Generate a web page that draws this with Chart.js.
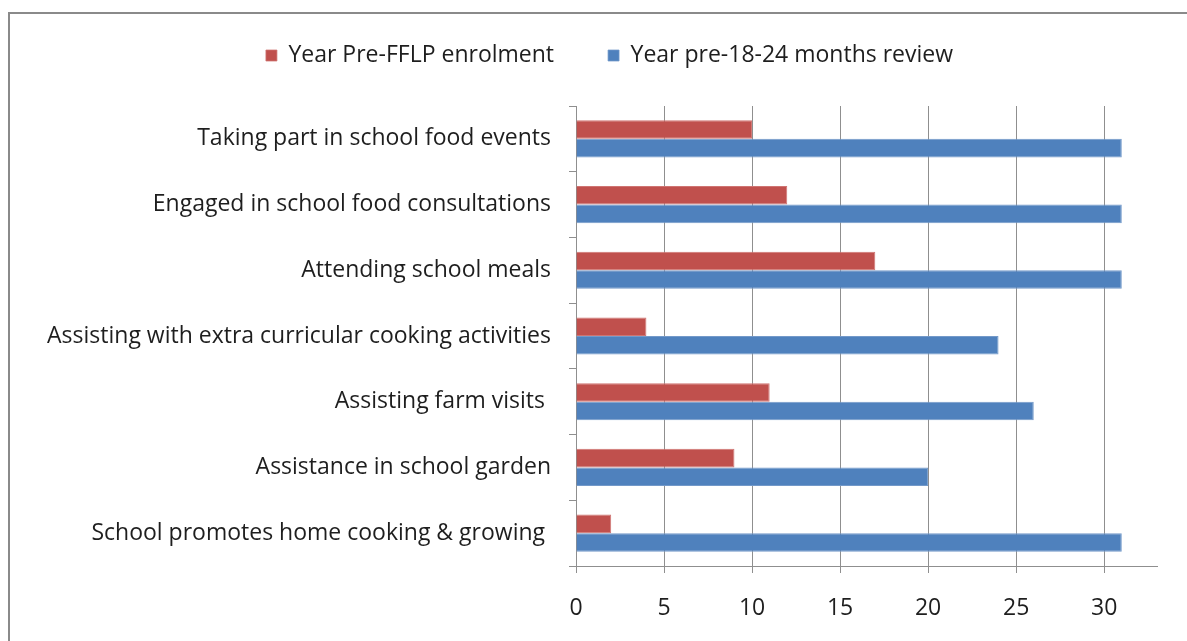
<!DOCTYPE html>
<html>
<head>
<meta charset="utf-8">
<script src="https://cdn.jsdelivr.net/npm/chart.js@4.4.1/dist/chart.umd.min.js"></script>
<style>
  html, body { margin: 0; padding: 0; background: #fff; }
  #frame {
    position: absolute; left: 8px; top: 12px; width: 1300px; height: 800px;
    border-left: 2px solid #8a8a8a; border-top: 2px solid #8a8a8a;
  }
  #wrap { position: absolute; left: 0; top: 0; width: 1187px; height: 641px; }
</style>
</head>
<body>
<div id="frame"></div>
<div id="wrap"><canvas id="Chart" width="1187" height="641"></canvas></div>
<script>
/* Chart data */
const activities = [
    'Taking part in school food events',
    'Engaged in school food consultations',
    'Attending school meals',
    'Assisting with extra curricular cooking activities',
    'Assisting farm visits ',
    'Assistance in school garden',
    'School promotes home cooking & growing '
];
const preEnrolment = [10, 12, 17, 4, 11, 9, 2];
const preReview = [31, 31, 31, 24, 26, 20, 31];
const xTicks = [0, 5, 10, 15, 20, 25, 30];

const fontFamily = '"Open Sans", sans-serif';
const gridColour = '#8f8f8f';

Chart.defaults.font.family = fontFamily;
Chart.defaults.color = '#1e1e1e';

/* fixed legend block height, and legend nudged right over the plot */
const legendPlace = {
    id: 'legendPlace',
    beforeInit(chart) {
        const fit = chart.legend.fit;
        chart.legend.fit = function () {
            fit.call(this);
            this.height = 116;
        };
    },
    afterLayout(chart) {
        chart.legend.left += 15;
        chart.legend.right += 15;
    }
};

/* Function to create plot */
function plotData() {
    const ctx = document.getElementById('Chart').getContext('2d');
    const myChart = new Chart(ctx, {
        type: 'bar',
        data: {
            labels: activities,
            datasets: [{
                label: 'Year Pre-FFLP enrolment',
                data: preEnrolment,
                backgroundColor: '#c0504d',
                borderColor: '#cf7472',
                borderWidth: { top: 1, bottom: 1, right: 1, left: 0 }
            }, {
                label: 'Year pre-18-24 months review',
                data: preReview,
                backgroundColor: '#4f81bd',
                borderColor: '#7399c9',
                borderWidth: { top: 1, bottom: 1, right: 1, left: 0 }
            }]
        },
        options: {
            indexAxis: 'y',
            responsive: false,
            animation: false,
            layout: {
                padding: { left: 32, right: 30, top: -10, bottom: 0 }
            },
            datasets: {
                bar: {
                    categoryPercentage: 0.565,
                    barPercentage: 1
                }
            },
            scales: {
                x: {
                    min: 0,
                    max: 33,
                    afterBuildTicks: function (axis) {
                        axis.ticks = xTicks.map(v => ({ value: v }));
                    },
                    afterFit: function (axis) { axis.height = 75; },
                    ticks: {
                        padding: 22,
                        font: { size: 23 }
                    },
                    grid: {
                        color: gridColour,
                        tickLength: 7,
                        drawOnChartArea: true
                    },
                    border: { color: gridColour }
                },
                y: {
                    afterFit: function (axis) { axis.width = 544; },
                    ticks: {
                        padding: 18,
                        font: { size: 23 }
                    },
                    grid: {
                        offset: true,
                        drawOnChartArea: false,
                        color: gridColour,
                        tickLength: 7
                    },
                    border: { color: gridColour }
                }
            },
            plugins: {
                legend: {
                    position: 'top',
                    labels: {
                        boxWidth: 11,
                        boxHeight: 11,
                        padding: 54,
                        font: { size: 23 }
                    }
                },
                tooltip: { enabled: false }
            }
        },
        plugins: [legendPlace]
    });
    return myChart;
}

plotData();
</script>
</body>
</html>
